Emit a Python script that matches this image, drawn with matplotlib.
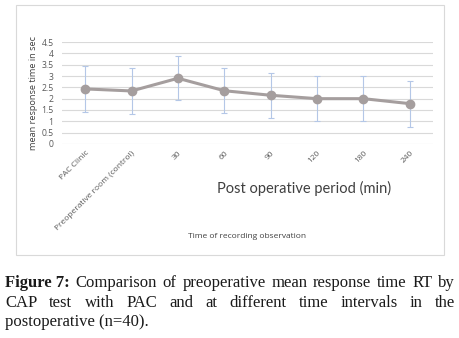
import matplotlib
matplotlib.use("Agg")
import matplotlib.pyplot as plt
from matplotlib.patches import Rectangle

# values
categories = ["PAC Clinic", "Preoperative room (control)", "30", "60", "90", "120", "180", "240"]
mean_rt = [2.43, 2.34, 2.90, 2.35, 2.15, 2.00, 2.00, 1.78]
sd_rt = [1.00, 1.00, 0.97, 1.00, 1.00, 0.98, 0.98, 1.02]
yticks = [0, 0.5, 1, 1.5, 2, 2.5, 3, 3.5, 4, 4.5]

caption_lines = [
    ["Figure 7:", "Comparison", "of", "preoperative", "mean", "response", "time", "RT", "by"],
    ["CAP", "test", "with", "PAC", "and", "at", "different", "time", "intervals", "in", "the"],
]
caption_last = "postoperative (n=40)."

W, H = 460, 338
fig = plt.figure(figsize=(W / 100, H / 100), dpi=100)
fig.patch.set_facecolor("white")

# chart frame
fig.patches.append(Rectangle((16 / W, 1 - 255 / H), 428 / W, 250 / H,
                             transform=fig.transFigure, fill=False,
                             edgecolor="#d9d9d9", linewidth=0.8))

ax = fig.add_axes([62 / W, 1 - 144 / H, 371 / W, 102 / H])
x = list(range(len(categories)))
ax.errorbar(x, mean_rt, yerr=sd_rt, fmt="none", ecolor="#b4c7e7",
            elinewidth=0.8, capsize=2, capthick=0.8, zorder=2)
ax.plot(x, mean_rt, color="#a59e9e", linewidth=2.2, marker="o",
        markersize=6, markerfacecolor="#a59e9e", markeredgecolor="#a59e9e", zorder=3)

ax.set_xlim(-0.5, len(categories) - 0.5)
ax.set_ylim(0, 4.5)
ax.set_yticks(yticks)
ax.set_yticklabels([f"{v:g}" for v in yticks])
ax.set_xticks(x)
ax.set_xticklabels(categories, rotation=45, ha="right", va="top",
                   rotation_mode="anchor")
ax.tick_params(axis="x", length=0, colors="#595959", labelsize=6, pad=4)
ax.tick_params(axis="y", length=0, colors="#595959", labelsize=6.2, pad=6)
ax.grid(axis="y", color="#d9d9d9", linewidth=0.8)
ax.set_axisbelow(True)
for s in ax.spines.values():
    s.set_visible(False)
for lbl in ax.get_xticklabels() + ax.get_yticklabels():
    lbl.set_family(["Open Sans", "DejaVu Sans"])

fig.text(34 / W, 1 - 93 / H, "mean response time in sec", rotation=90,
         ha="center", va="center", fontsize=6.6, color="#404040", family="Open Sans")
fig.text(304 / W, 1 - 188 / H, "Post operative period (min)", ha="center",
         va="center", fontsize=10.5, color="#404040", family="Lato")
fig.text(247 / W, 1 - 237 / H, "Time of recording observation", ha="center",
         va="center", fontsize=6, color="#404040", family="Open Sans")

# justified caption
fig.canvas.draw()
renderer = fig.canvas.get_renderer()
left, right = 5, 455
line_y = [283, 303]
for words, yy in zip(caption_lines, line_y):
    texts = []
    for w in words:
        bold = w.startswith("Figure")
        t = fig.text(0, 1 - yy / H, w, fontsize=12, family="Liberation Serif",
                     weight="bold" if bold else "normal", color="#1a1a1a", va="center")
        texts.append(t)
    widths = [t.get_window_extent(renderer).width for t in texts]
    gap = (right - left - sum(widths)) / (len(words) - 1)
    pos = left
    for t, wd in zip(texts, widths):
        t.set_x(pos / W)
        pos += wd + gap
fig.text(left / W, 1 - 322 / H, caption_last, fontsize=12, family="Liberation Serif",
         color="#1a1a1a", va="center")

fig.savefig("out.png", dpi=100)
